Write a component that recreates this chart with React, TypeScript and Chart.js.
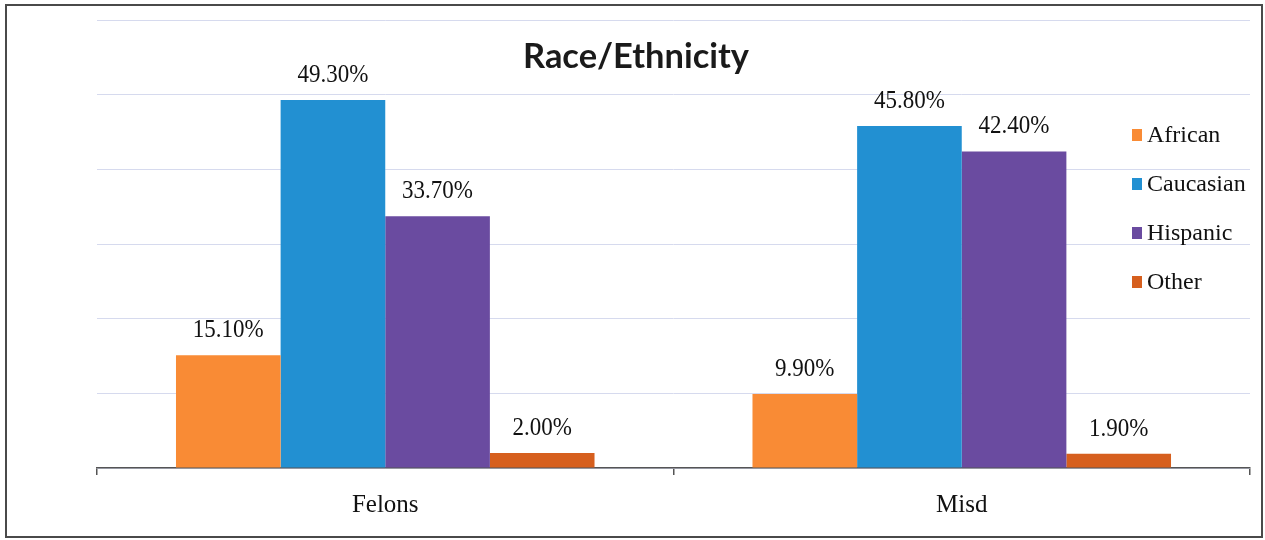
import React, { useEffect, useRef } from "react";
import { Chart, registerables } from "chart.js";

Chart.register(...registerables);

const categories = ["Felons", "Misd"];
const seriesNames = ["African", "Caucasian", "Hispanic", "Other"];
const african = [15.1, 9.9];
const caucasian = [49.3, 45.8];
const hispanic = [33.7, 42.4];
const other = [2.0, 1.9];
const seriesColors = ["#F98B35", "#2290D2", "#6A4BA0", "#D65F1E"];
const titleText = "Race/Ethnicity";

const SERIF = "'Liberation Serif', 'Times New Roman', serif";

// Outer frame around the whole chart
const framePlugin = {
  id: "frame",
  beforeDraw(chart: any) {
    const ctx = chart.ctx;
    ctx.save();
    ctx.fillStyle = "#ffffff";
    ctx.fillRect(0, 0, chart.width, chart.height);
    ctx.strokeStyle = "#4a4a4a";
    ctx.lineWidth = 2;
    ctx.strokeRect(6, 5, 1256, 532);
    ctx.restore();
  },
};

// Bold title drawn over the plot area
const titlePlugin = {
  id: "overlayTitle",
  afterDraw(chart: any) {
    const ctx = chart.ctx;
    ctx.save();
    ctx.font = "bold 35px Lato, 'Open Sans', sans-serif";
    const w = ctx.measureText(titleText).width;
    const sx = 226 / w;
    ctx.translate(636, 68);
    ctx.scale(sx, 1);
    ctx.fillStyle = "#1a1a1a";
    ctx.textAlign = "center";
    ctx.textBaseline = "alphabetic";
    ctx.fillText(titleText, 0, 0);
    ctx.restore();
  },
};

// Percentage labels above each bar
const valueLabelPlugin = {
  id: "valueLabels",
  afterDatasetsDraw(chart: any) {
    const ctx = chart.ctx;
    ctx.save();
    ctx.font = `25px ${SERIF}`;
    ctx.fillStyle = "#111111";
    ctx.textAlign = "center";
    ctx.textBaseline = "alphabetic";
    chart.data.datasets.forEach((ds: any, i: number) => {
      const meta = chart.getDatasetMeta(i);
      meta.data.forEach((el: any, j: number) => {
        const v = ds.data[j] as number;
        ctx.save();
        ctx.translate(el.x, el.y - 18);
        ctx.scale(0.92, 1);
        ctx.fillText(v.toFixed(2) + "%", 0, 0);
        ctx.restore();
      });
    });
    ctx.restore();
  },
};

// Legend laid over the right side of the plot area
const legendPlugin = {
  id: "overlayLegend",
  afterDraw(chart: any) {
    const ctx = chart.ctx;
    const area = chart.chartArea;
    ctx.save();
    ctx.font = `24px ${SERIF}`;
    ctx.textAlign = "left";
    ctx.textBaseline = "middle";
    const markerX = area.right - 118;
    const textX = area.right - 103;
    const firstY = 135;
    const step = 49;
    chart.data.datasets.forEach((ds: any, i: number) => {
      const y = firstY + i * step;
      ctx.fillStyle = ds.backgroundColor;
      ctx.fillRect(markerX, y - 6, 10, 12);
      ctx.fillStyle = "#111111";
      ctx.fillText(ds.label, textX, y + 1);
    });
    ctx.restore();
  },
};

export default function App() {
  const canvasRef = useRef<HTMLCanvasElement | null>(null);

  useEffect(() => {
    if (!canvasRef.current) return;
    const values = [african, caucasian, hispanic, other];
    const chart = new Chart(canvasRef.current, {
      type: "bar",
      data: {
        labels: categories,
        datasets: seriesNames.map((name, i) => ({
          label: name,
          data: values[i],
          backgroundColor: seriesColors[i],
          borderWidth: 0,
          categoryPercentage: 0.726,
          barPercentage: 1.0,
        })),
      },
      options: {
        animation: false,
        responsive: false,
        maintainAspectRatio: false,
        layout: { padding: { left: 97, right: 15, top: 20, bottom: 5 } },
        plugins: {
          legend: { display: false },
          title: { display: false },
          tooltip: { enabled: false },
        },
        scales: {
          x: {
            grid: {
              drawOnChartArea: false,
              drawTicks: true,
              tickLength: 7,
              color: "#555555",
              lineWidth: 1.5,
            },
            border: { display: true, color: "#555555", width: 1.5 },
            ticks: {
              color: "#111111",
              padding: 15,
              font: { family: SERIF, size: 25, lineHeight: 1.2 },
            },
          },
          y: {
            min: 0,
            max: 60,
            ticks: { display: false, stepSize: 10 },
            grid: { color: "#d6daee", lineWidth: 1, drawTicks: false },
            border: { display: false },
          },
        },
      },
      plugins: [framePlugin, valueLabelPlugin, legendPlugin, titlePlugin],
    });
    return () => chart.destroy();
  }, []);

  return (
    <div style={{ position: "fixed", left: 0, top: 0, width: 1265, height: 540 }}>
      <canvas ref={canvasRef} width={1265} height={540} style={{ display: "block" }} />
    </div>
  );
}
